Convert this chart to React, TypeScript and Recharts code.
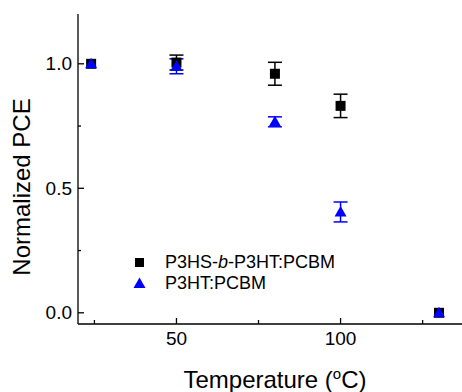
import React from 'react';
import {
  ScatterChart,
  Scatter,
  XAxis,
  YAxis,
  ErrorBar,
  Legend,
} from 'recharts';

const temps = [24, 50, 80, 100, 130];
const blockPce = [1.0, 1.005, 0.96, 0.831, 0.0];
const blockErr = [0, 0.03, 0.046, 0.047, 0];
const homoPce = [1.0, 0.99, 0.767, 0.405, 0.0];
const homoErr = [0, 0.03, 0.02, 0.04, 0];

const xTicks = [25, 50, 75, 100, 125];
const xLabeled = [50, 100];
const yTicks = [0, 0.25, 0.5, 0.75, 1.0];
const yLabeled = [0, 0.5, 1.0];

const blockData = temps.map((t, i) => ({ t, pce: blockPce[i], err: blockErr[i] }));
const homoData = temps.map((t, i) => ({ t, pce: homoPce[i], err: homoErr[i] }));

const FONT = '"Liberation Sans", Arial, sans-serif';

const Square = ({ cx, cy }: any) => (
  <rect x={cx - 5} y={cy - 5} width={10} height={10} fill="#000" />
);

const Triangle = ({ cx, cy }: any) => (
  <polygon
    points={`${cx},${cy - 6} ${cx - 6},${cy + 4.5} ${cx + 6},${cy + 4.5}`}
    fill="#0000ff"
  />
);

const BottomTick = ({ x, y, payload }: any) => {
  const major = xLabeled.includes(payload.value);
  return (
    <g>
      <line x1={x} y1={y} x2={x} y2={y - (major ? 6 : 4)} stroke="#000" strokeWidth={1.3} />
      {major && (
        <text x={x} y={y + 21} textAnchor="middle" fontSize={19} fontFamily={FONT} fill="#000">
          {payload.value}
        </text>
      )}
    </g>
  );
};

const TopTick = ({ x, y }: any) => (
  <line x1={x} y1={y} x2={x} y2={y + 5} stroke="#000" strokeWidth={1.3} />
);

const LeftTick = ({ x, y, payload }: any) => {
  const major = yLabeled.includes(payload.value);
  return (
    <g>
      <line x1={x} y1={y} x2={x + (major ? 6 : 3)} y2={y} stroke="#000" strokeWidth={1.3} />
      {major && (
        <text x={x - 6} y={y} dy="0.35em" textAnchor="end" fontSize={19} fontFamily={FONT} fill="#000">
          {payload.value.toFixed(1)}
        </text>
      )}
    </g>
  );
};

const YLabel = ({ viewBox }: any) => {
  const x = viewBox.x + 22;
  const y = viewBox.y + viewBox.height / 2 + 18;
  return (
    <text
      x={x}
      y={y}
      transform={`rotate(-90, ${x}, ${y})`}
      textAnchor="middle"
      dy="0.35em"
      fontSize={24}
      fontFamily={FONT}
      fill="#000"
    >
      Normalized PCE
    </text>
  );
};

const XLabel = ({ viewBox }: any) => (
  <text
    x={viewBox.x + viewBox.width / 2 + 5}
    y={388}
    textAnchor="middle"
    fontSize={24}
    fontFamily={FONT}
    fill="#000"
  >
    Temperature (
    <tspan dy={-9} fontSize={15}>o</tspan>
    <tspan dy={9}>C)</tspan>
  </text>
);

const LegendBox = () => (
  <div style={{ fontFamily: FONT, fontSize: 18, color: '#000' }}>
    <div style={{ display: 'flex', alignItems: 'center', height: 21 }}>
      <svg width={24} height={21}>
        <rect x={7} y={6} width={9} height={9} fill="#000" />
      </svg>
      <span style={{ marginLeft: 13 }}>
        P3HS-<i>b</i>-P3HT:PCBM
      </span>
    </div>
    <div style={{ display: 'flex', alignItems: 'center', height: 21 }}>
      <svg width={24} height={21}>
        <polygon points="11.5,4.5 5.5,15 17.5,15" fill="#0000ff" />
      </svg>
      <span style={{ marginLeft: 13 }}>P3HT:PCBM</span>
    </div>
  </div>
);

export default function App() {
  return (
    <div style={{ position: 'fixed', left: 0, top: 0, width: 462, height: 392, background: '#fff' }}>
      <ScatterChart
        width={462}
        height={392}
        margin={{ top: 14, right: 0, bottom: 0, left: 0 }}
      >
        <XAxis
          xAxisId="bottom"
          dataKey="t"
          type="number"
          domain={[20, 137]}
          allowDataOverflow
          ticks={xTicks}
          interval={0}
          height={68}
          tickSize={0}
          tickMargin={0}
          tickLine={false}
          tick={<BottomTick />}
          axisLine={{ stroke: '#000', strokeWidth: 1.3 }}
          label={<XLabel />}
        />
        <XAxis
          xAxisId="top"
          orientation="top"
          type="number"
          domain={[20, 137]}
          allowDataOverflow
          ticks={xTicks}
          interval={0}
          height={0}
          tickSize={0}
          tickMargin={0}
          tickLine={false}
          tick={<TopTick />}
          axisLine={{ stroke: '#000', strokeWidth: 1.3 }}
        />
        <YAxis
          dataKey="pce"
          type="number"
          domain={[-0.045, 1.2]}
          allowDataOverflow
          ticks={yTicks}
          interval={0}
          width={78}
          tickSize={0}
          tickMargin={0}
          tickLine={false}
          tick={<LeftTick />}
          axisLine={{ stroke: '#000', strokeWidth: 1.3 }}
          label={<YLabel />}
        />
        <Legend
          layout="vertical"
          align="center"
          verticalAlign="middle"
          content={<LegendBox />}
          wrapperStyle={{ left: 128, top: 252, width: 260 }}
        />
        <Scatter
          name="P3HS-b-P3HT:PCBM"
          data={blockData}
          xAxisId="bottom"
          shape={<Square />}
          isAnimationActive={false}
        >
          <ErrorBar dataKey="err" direction="y" width={7} stroke="#000" strokeWidth={1.5} />
        </Scatter>
        <Scatter
          name="P3HT:PCBM"
          data={homoData}
          xAxisId="bottom"
          shape={<Triangle />}
          isAnimationActive={false}
        >
          <ErrorBar dataKey="err" direction="y" width={7} stroke="#0000ff" strokeWidth={1.5} />
        </Scatter>
      </ScatterChart>
    </div>
  );
}
